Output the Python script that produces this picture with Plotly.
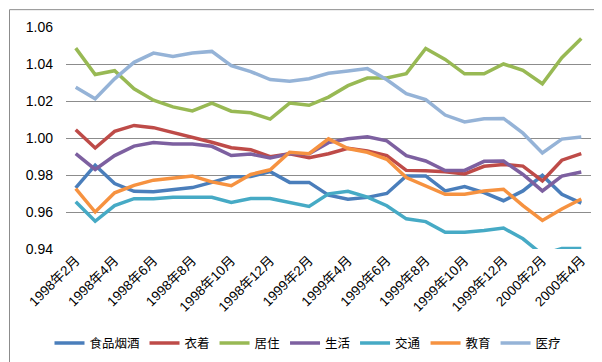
import plotly.graph_objects as go

months = ["1998年2月", "1998年3月", "1998年4月", "1998年5月", "1998年6月", "1998年7月",
          "1998年8月", "1998年9月", "1998年10月", "1998年11月", "1998年12月", "1999年1月",
          "1999年2月", "1999年3月", "1999年4月", "1999年5月", "1999年6月", "1999年7月",
          "1999年8月", "1999年9月", "1999年10月", "1999年11月", "1999年12月", "2000年1月",
          "2000年2月", "2000年3月", "2000年4月"]
tick_labels = months[::2]

food = [0.973, 0.9853, 0.9754, 0.9712, 0.971, 0.972, 0.9732, 0.976, 0.979, 0.9792, 0.9818,
        0.976, 0.976, 0.9691, 0.9669, 0.9679, 0.970, 0.9795, 0.9795, 0.9714, 0.9737, 0.9705,
        0.9661, 0.9714, 0.9798, 0.9696, 0.9648]
clothing = [1.0045, 0.9946, 1.0036, 1.0068, 1.0056, 1.003, 1.0007, 0.9977, 0.9947, 0.9937,
            0.9899, 0.9915, 0.9893, 0.9915, 0.9944, 0.9930, 0.9905, 0.9825, 0.9823, 0.9818,
            0.9806, 0.9847, 0.9857, 0.9848, 0.9768, 0.988, 0.9916]
housing = [1.0486, 1.0343, 1.0364, 1.0266, 1.0204, 1.0168, 1.0146, 1.0189, 1.0145, 1.0136,
           1.0102, 1.0189, 1.0177, 1.0221, 1.0283, 1.0324, 1.0324, 1.0348, 1.0484, 1.0425,
           1.0347, 1.0347, 1.040, 1.0366, 1.0293, 1.0434, 1.0538]
living = [0.9915, 0.983, 0.9905, 0.9956, 0.9976, 0.9968, 0.9968, 0.9955, 0.9905, 0.9913,
          0.9892, 0.9915, 0.9915, 0.9975, 0.9996, 1.0007, 0.9985, 0.9904, 0.9876, 0.9824,
          0.9825, 0.9874, 0.9875, 0.9803, 0.9714, 0.9794, 0.9816]
transport = [0.9655, 0.955, 0.9635, 0.9672, 0.9672, 0.968, 0.968, 0.968, 0.9652, 0.9673,
             0.9673, 0.9652, 0.963, 0.9698, 0.9712, 0.968, 0.9634, 0.9563, 0.9548, 0.949,
             0.949, 0.950, 0.9513, 0.9455, 0.937, 0.9403, 0.9403]
education = [0.9726, 0.960, 0.9704, 0.9744, 0.9772, 0.9784, 0.9794, 0.9763, 0.9742, 0.9803,
             0.9828, 0.9923, 0.9915, 0.9995, 0.9943, 0.9923, 0.9885, 0.9786, 0.9741, 0.9696,
             0.9696, 0.9714, 0.9723, 0.9634, 0.9554, 0.9616, 0.967]
medical = [1.0275, 1.0212, 1.032, 1.0409, 1.0459, 1.0441, 1.0459, 1.0468, 1.0391, 1.0359,
           1.0316, 1.0307, 1.032, 1.035, 1.0362, 1.0375, 1.0315, 1.024, 1.0208, 1.0124,
           1.0087, 1.0104, 1.0106, 1.0026, 0.9919, 0.9994, 1.0005]

series = [
    ("食品烟酒", food, "#4A7EBB"),
    ("衣着", clothing, "#BE4B48"),
    ("居住", housing, "#98B954"),
    ("生活", living, "#7D60A0"),
    ("交通", transport, "#46AAC5"),
    ("教育", education, "#F69240"),
    ("医疗", medical, "#95B3D7"),
]

FONT = "Liberation Sans, Noto Sans CJK SC, sans-serif"

fig = go.Figure()
for name, vals, color in series:
    fig.add_trace(go.Scatter(x=months, y=vals, mode="lines", name=name,
                             line=dict(color=color, width=3.5)))

fig.update_layout(
    width=602, height=362,
    margin=dict(l=58, r=19, t=19, b=119),
    paper_bgcolor="white", plot_bgcolor="white",
    font=dict(family=FONT, size=13, color="#000000"),
    showlegend=True,
    legend=dict(orientation="h", x=(300 - 58) / 525, xanchor="center", y=-0.425,
                yanchor="middle", font=dict(size=12.5), itemwidth=30, tracegroupgap=0),
    xaxis=dict(type="category", tickmode="array", tickvals=tick_labels, ticktext=tick_labels,
               tickangle=-45, showgrid=False, showline=False, ticks="",
               range=[-0.5, 26.5], tickfont=dict(size=13.5)),
    yaxis=dict(range=[0.94, 1.06], dtick=0.02, tick0=0.94, tickformat=".2f",
               showgrid=True, gridcolor="#8C8C8C", gridwidth=1, zeroline=False,
               showline=False, ticks="", ticklabelstandoff=12, tickfont=dict(size=14)),
    shapes=[dict(type="rect", xref="paper", yref="paper",
                 x0=(1.5 - 58) / 525, x1=(599.5 - 58) / 525,
                 y0=(243 - 360.5) / 224, y1=(243 - 1.5) / 224,
                 line=dict(color="#8C8C8C", width=1), layer="below")],
)

fig.write_html("out.html")
